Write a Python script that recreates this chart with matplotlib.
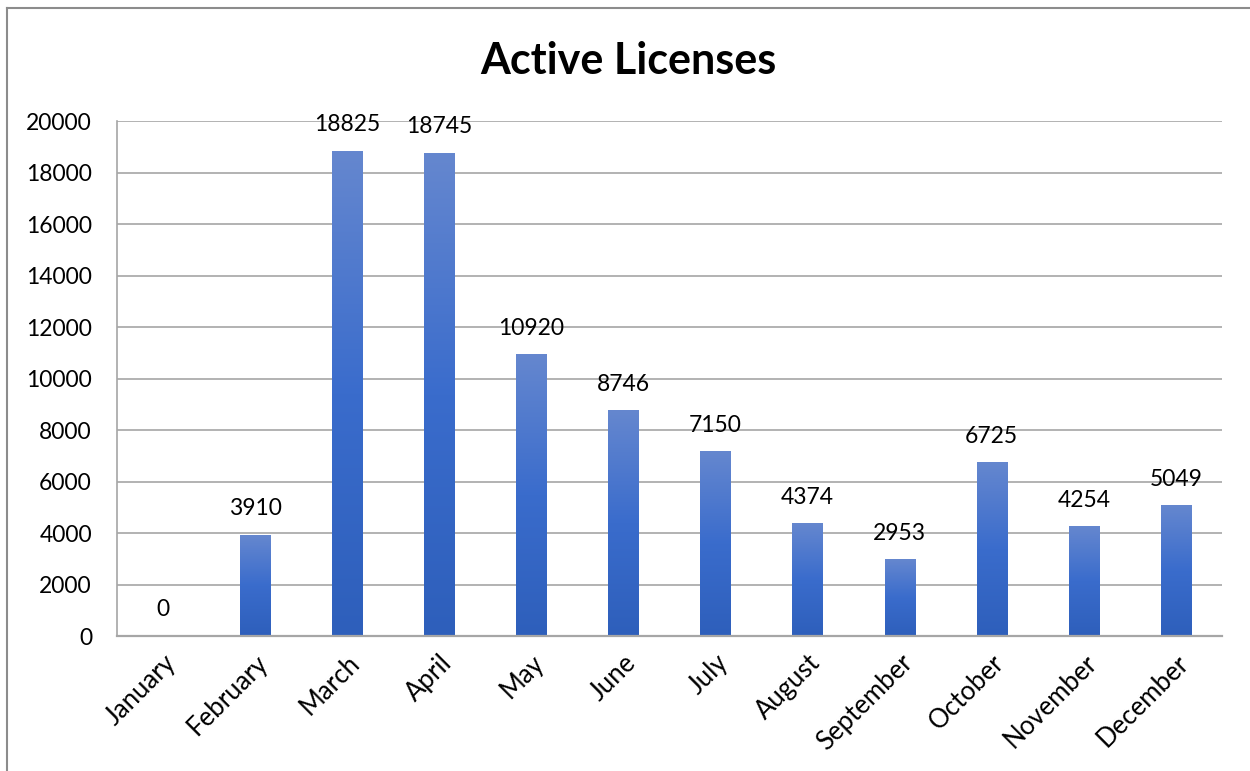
import numpy as np
import matplotlib.pyplot as plt
from matplotlib.colors import LinearSegmentedColormap
from matplotlib.lines import Line2D

plt.rcParams['font.family'] = ['Lato', 'DejaVu Sans']

months = ["January", "February", "March", "April", "May", "June",
          "July", "August", "September", "October", "November", "December"]
licenses = [0, 3910, 18825, 18745, 10920, 8746, 7150, 4374, 2953, 6725, 4254, 5049]

fig = plt.figure(figsize=(12.5, 7.71), dpi=100)
ax = fig.add_axes([0.0936, 0.175, 0.884, 0.668])

# gradient used for each bar: light at the top, darker at the bottom
grad = LinearSegmentedColormap.from_list("bar", ["#2e5fbb", "#3a6ccc", "#6587cf"])
bar_w = 0.33
x = np.arange(len(months))
for i, v in enumerate(licenses):
    if v <= 0:
        continue
    g = np.linspace(0, 1, 256).reshape(-1, 1)
    ax.imshow(g, cmap=grad, origin="lower", aspect="auto", interpolation="bilinear",
              extent=[i - bar_w / 2, i + bar_w / 2, 0, v], zorder=2)

for i, v in enumerate(licenses):
    ax.annotate(str(v), (i, v), xytext=(0, 19), textcoords="offset points",
                ha="center", va="center", fontsize=16.5, color="black")

ax.set_xlim(-0.5, len(months) - 0.5)
ax.set_ylim(0, 20000)
ax.set_yticks(np.arange(0, 20001, 2000))
ax.set_yticklabels([str(t) for t in range(0, 20001, 2000)], fontsize=16.5)
ax.set_xticks(x)
ax.set_xticklabels(months, rotation=45, ha="right", rotation_mode="anchor", fontsize=18.5)
ax.tick_params(length=0, pad=18)
ax.tick_params(axis="x", pad=10)
ax.grid(axis="y", color="#a6a6a6", linewidth=1.2, zorder=0)
ax.set_axisbelow(True)
for s in ["top", "right"]:
    ax.spines[s].set_visible(False)
ax.spines["left"].set_color("#a6a6a6")
ax.spines["bottom"].set_color("#a6a6a6")
ax.spines["left"].set_linewidth(1.2)
ax.spines["bottom"].set_linewidth(1.6)

fig.text(0.5025, 0.921, "Active Licenses", ha="center", va="center",
         fontsize=31, fontweight="bold")

# chart border (top and left edges only visible)
fig.add_artist(Line2D([0.0056, 1.0], [0.9896, 0.9896], color="#8c8c8c", linewidth=1.5))
fig.add_artist(Line2D([0.0056, 0.0056], [0.0, 0.9896], color="#8c8c8c", linewidth=1.5))

fig.savefig("out.png", dpi=100)
